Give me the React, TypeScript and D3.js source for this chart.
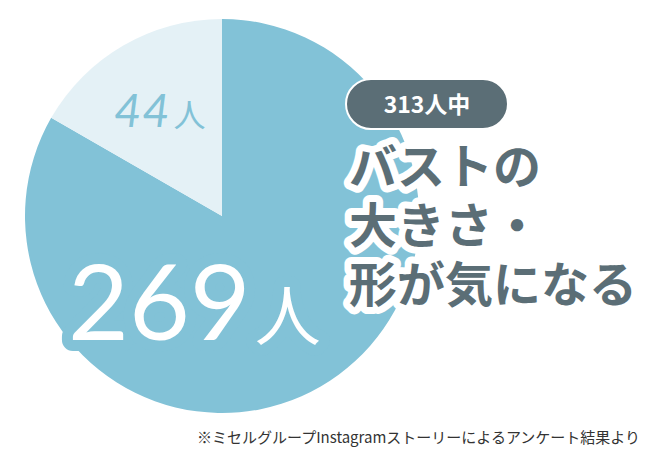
import React, { useEffect, useRef } from 'react'
import * as d3 from 'd3'

// slices: label counts and the share of the circle each slice takes in the picture
const groups = ['気になる', 'その他']
const counts = [269, 44]
const sharePct = [83.3, 16.7]
const totalLabel = '313人中'
const titleLines = ['バストの', '大きさ・', '形が気になる']
const note = '※ミセルグループInstagramストーリーによるアンケート結果より'

const colors = ['#82C2D7', '#E4F1F6']
const dark = '#5B6E76'
const jp = '"Noto Sans CJK JP", "Noto Sans", sans-serif'
const latin = 'Lato, "Open Sans", sans-serif'

const App: React.FC = () => {
    const ref = useRef<SVGSVGElement | null>(null)

    useEffect(() => {
        if (!ref.current) return
        const width = 650
        const height = 460
        const cx = 222
        const cy = 216
        const r = 197

        const svg = d3.select(ref.current)
        svg.selectAll('*').remove()
        svg.attr('width', width).attr('height', height).attr('viewBox', `0 0 ${width} ${height}`)

        svg.append('rect').attr('width', width).attr('height', height).attr('fill', '#fff')

        const pie = d3.pie<number>().sort(null).value(d => d)
        const arc = d3.arc<d3.PieArcDatum<number>>().innerRadius(0).outerRadius(r)

        const g = svg.append('g').attr('transform', `translate(${cx},${cy})`)
        g.selectAll('path')
            .data(pie(sharePct))
            .join('path')
            .attr('d', arc)
            .attr('fill', (_, i) => colors[i])
            .attr('data-group', (_, i) => groups[i])

        // small slice label
        const small = svg.append('text')
            .attr('x', 114)
            .attr('y', 127)
            .attr('fill', colors[0])
        small.append('tspan')
            .attr('font-family', latin)
            .attr('font-weight', 400)
            .attr('font-style', 'italic')
            .attr('font-size', 47)
            .attr('letter-spacing', 1)
            .text(counts[1])
        small.append('tspan')
            .attr('font-family', jp)
            .attr('font-weight', 400)
            .attr('font-size', 32)
            .attr('dx', 3)
            .text('人')

        // big slice label with a halo in the slice colour
        const big = svg.append('text')
            .attr('x', 68)
            .attr('y', 340)
            .attr('fill', '#fff')
            .attr('stroke', colors[0])
            .attr('stroke-width', 22)
            .attr('stroke-linejoin', 'round')
            .attr('paint-order', 'stroke')
        big.append('tspan')
            .attr('font-family', latin)
            .attr('font-weight', 400)
            .attr('font-size', 105)
            .text(counts[0])
        big.append('tspan')
            .attr('font-family', jp)
            .attr('font-weight', 400)
            .attr('font-size', 66)
            .attr('dx', 4)
            .text('人')

        // pill
        svg.append('rect')
            .attr('x', 346).attr('y', 79)
            .attr('width', 162).attr('height', 50)
            .attr('rx', 25)
            .attr('fill', dark)
            .attr('stroke', '#fff')
            .attr('stroke-width', 2)
        svg.append('text')
            .attr('x', 427).attr('y', 113)
            .attr('text-anchor', 'middle')
            .attr('font-family', jp)
            .attr('font-weight', 700)
            .attr('font-size', 23)
            .attr('fill', '#fff')
            .text(totalLabel)

        // title with white halo
        svg.selectAll('.title')
            .data(titleLines)
            .join('text')
            .attr('class', 'title')
            .attr('x', 349)
            .attr('y', (_, i) => 184 + i * 59)
            .attr('font-family', jp)
            .attr('font-weight', 700)
            .attr('font-size', 48)
            .attr('fill', dark)
            .attr('stroke', '#fff')
            .attr('stroke-width', 14)
            .attr('stroke-linejoin', 'round')
            .attr('paint-order', 'stroke')
            .text(d => d)

        svg.append('text')
            .attr('x', 640).attr('y', 443)
            .attr('text-anchor', 'end')
            .attr('font-family', jp)
            .attr('font-weight', 400)
            .attr('font-size', 15)
            .attr('fill', '#333')
            .text(note)
    }, [])

    return <svg ref={ref} style={{ position: 'absolute', left: 0, top: 0 }}></svg>
}

export default App
